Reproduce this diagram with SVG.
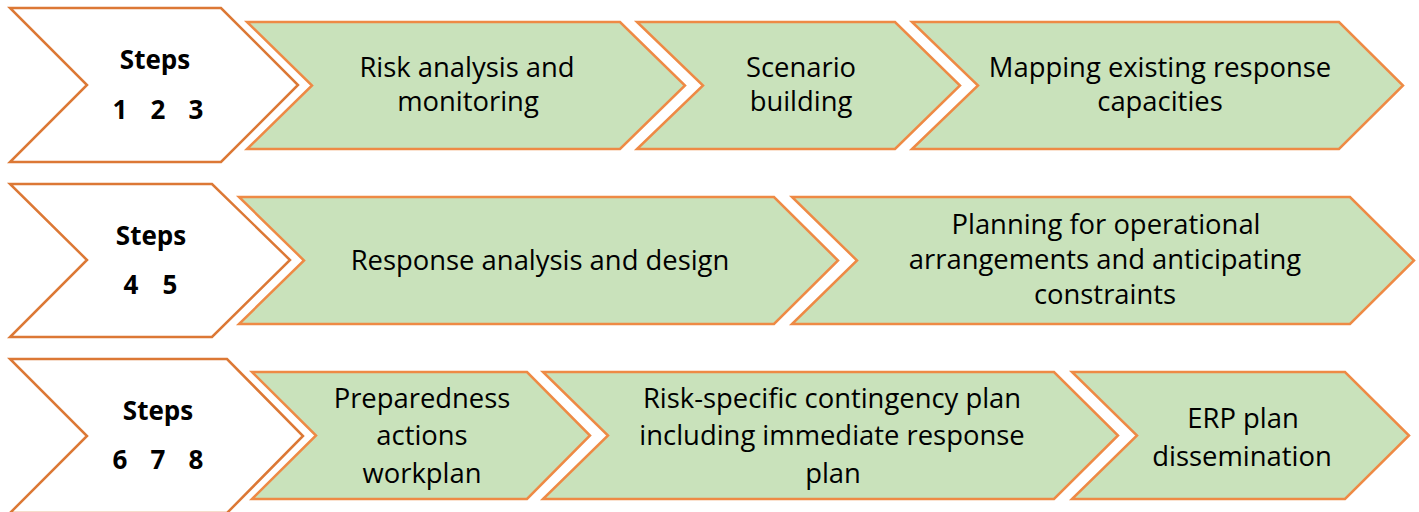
<svg xmlns="http://www.w3.org/2000/svg" width="1419" height="512" viewBox="0 0 1419 512">
<style>
.head{fill:#ffffff;stroke:#DC7835;stroke-width:2.5;stroke-linejoin:miter}
.step{fill:#C9E2BB;stroke:#EE8A45;stroke-width:2.5;stroke-linejoin:miter}
.t{font-family:"Open Sans","Liberation Sans",sans-serif;font-size:27.4px;fill:#000;text-anchor:middle}
.b{font-family:"Open Sans","Liberation Sans",sans-serif;font-size:26px;font-weight:bold;fill:#000;text-anchor:middle}
</style>
<rect width="1419" height="512" fill="#ffffff"/>
<g id="connectors"/>
<!-- Row 1 -->
<g id="steps123">
<polygon class="head" points="10,8 221,8 298,85 221,162 10,162 87,85"/>
<text class="b" x="155" y="69">Steps</text>
<text class="b" y="119"><tspan x="120">1</tspan><tspan x="158">2</tspan><tspan x="196">3</tspan></text>
</g>
<g id="risk-analysis">
<polygon class="step" points="247,22 620,22 685,85.5 620,149 247,149 312,85.5"/>
<text class="t" x="467" y="77">Risk analysis and</text>
<text class="t" x="468" y="111">monitoring</text>
</g>
<g id="scenario">
<polygon class="step" points="637,22 895,22 960,85.5 895,149 637,149 703,85.5"/>
<text class="t" x="801" y="77">Scenario</text>
<text class="t" x="801" y="111">building</text>
</g>
<g id="mapping">
<polygon class="step" points="912,22 1339,22 1403,85.5 1339,149 912,149 978,85.5"/>
<text class="t" x="1160" y="77">Mapping existing response</text>
<text class="t" x="1160" y="111">capacities</text>
</g>
<!-- Row 2 -->
<g id="steps45">
<polygon class="head" points="10,184 212,184 290,260 212,337 10,337 87,260"/>
<text class="b" x="151" y="245">Steps</text>
<text class="b" y="294"><tspan x="131">4</tspan><tspan x="170">5</tspan></text>
</g>
<g id="response-analysis">
<polygon class="step" points="239,197 774,197 838,260.5 774,324 239,324 304,260.5"/>
<text class="t" x="540" y="270">Response analysis and design</text>
</g>
<g id="planning">
<polygon class="step" points="792,197 1350,197 1414,260.5 1350,324 792,324 857,260.5"/>
<text class="t" x="1106" y="234">Planning for operational</text>
<text class="t" x="1105" y="269">arrangements and anticipating</text>
<text class="t" x="1105" y="304">constraints</text>
</g>
<!-- Row 3 -->
<g id="steps678">
<polygon class="head" points="10,359 227,359 303,436 227,513 10,513 87,436"/>
<text class="b" x="158" y="420">Steps</text>
<text class="b" y="469"><tspan x="120">6</tspan><tspan x="158">7</tspan><tspan x="196">8</tspan></text>
</g>
<g id="preparedness">
<polygon class="step" points="252,372 527,372 590,435.5 527,499 252,499 316,435.5"/>
<text class="t" x="422" y="408">Preparedness</text>
<text class="t" x="422" y="445">actions</text>
<text class="t" x="422" y="483">workplan</text>
</g>
<g id="contingency">
<polygon class="step" points="543,372 1054,372 1118,435.5 1054,499 543,499 608,435.5"/>
<text class="t" x="832" y="408">Risk-specific contingency plan</text>
<text class="t" x="832" y="445">including immediate response</text>
<text class="t" x="833" y="483">plan</text>
</g>
<g id="dissemination">
<polygon class="step" points="1072,372 1345,372 1409,435.5 1345,499 1072,499 1137,435.5"/>
<text class="t" x="1243" y="428">ERP plan</text>
<text class="t" x="1242" y="466">dissemination</text>
</g>
</svg>
